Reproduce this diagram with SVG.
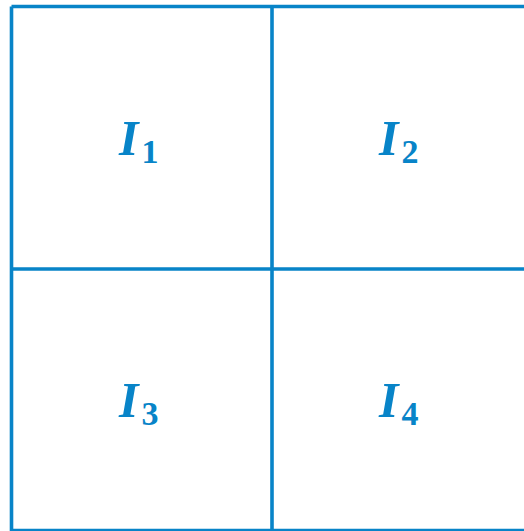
<svg xmlns="http://www.w3.org/2000/svg" width="524" height="531" viewBox="0 0 524 531">
<style>
.ln{stroke:#0884C8;stroke-width:3.6;fill:none}
.lbl{font-family:"Liberation Serif","DejaVu Serif",serif;font-weight:bold;fill:#0884C8}
.main{font-style:italic;font-size:50px}
.sub{font-size:34px}
</style>
<rect width="524" height="531" fill="#ffffff"/>
<g id="grid">
<path class="ln" d="M11.5 6.5 H540 M11.5 269 H540 M11.5 530.5 H540 M11.5 6.5 V540 M272 6.5 V540"/>
</g>
<g id="I1"><text class="lbl" x="119" y="155"><tspan class="main">I</tspan><tspan class="sub" dx="3" dy="8">1</tspan></text></g>
<g id="I2"><text class="lbl" x="379" y="155"><tspan class="main">I</tspan><tspan class="sub" dx="3" dy="8">2</tspan></text></g>
<g id="I3"><text class="lbl" x="119" y="417"><tspan class="main">I</tspan><tspan class="sub" dx="3" dy="8">3</tspan></text></g>
<g id="I4"><text class="lbl" x="379" y="417"><tspan class="main">I</tspan><tspan class="sub" dx="3" dy="8">4</tspan></text></g>
</svg>
